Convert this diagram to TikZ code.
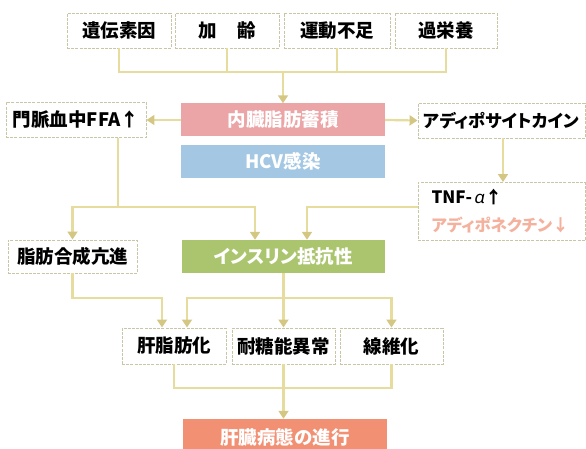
\documentclass[tikz,border=0pt]{standalone}
\usepackage{fontspec}
\usetikzlibrary{arrows.meta}
\setmainfont{Noto Sans CJK JP}
\newfontfamily\kana{Noto Sans CJK JP}[RawFeature=+palt]
\newfontfamily\grk{Noto Sans}[FakeSlant=0.2]
\definecolor{linec}{HTML}{E6DC9E}
\definecolor{tipc}{HTML}{D4C783}
\definecolor{bordc}{HTML}{C9C6A6}
\definecolor{redf}{HTML}{EBA5A7}
\definecolor{bluef}{HTML}{A4C7E3}
\definecolor{greenf}{HTML}{ABC56F}
\definecolor{orangef}{HTML}{F29074}
\definecolor{pinkt}{HTML}{F4B29E}
\newcommand\fsA{\fontsize{18.5}{22}\selectfont\bfseries}
\newcommand\fsB{\fontsize{17}{21}\selectfont\bfseries}
\begin{document}
\begin{tikzpicture}[x=1pt,y=-1pt,
  wbox/.style={draw=bordc, dash pattern=on 3pt off 1.2pt, line width=0.9pt, fill=white,
    inner sep=0pt, text=black, font=\fsA},
  cbox/.style={inner sep=0pt, text=white, font=\fsA},
  conn/.style={draw=linec, line width=2.2pt},
  arr/.style={conn, -{Triangle[width=10pt,length=8pt,color=tipc]}}]
\useasboundingbox (0,0) rectangle (586,449);
\clip (0,0) rectangle (586,449);
% top row
\node[wbox, minimum width=104, minimum height=35] (a1) at (119,30.5) {遺伝素因};
\node[wbox, minimum width=104, minimum height=35] (a2) at (227,30.5) {加\hspace{1.1em}齢};
\node[wbox, minimum width=106, minimum height=35] (a3) at (337,30.5) {運動不足};
\node[wbox, minimum width=102, minimum height=35] (a4) at (446,30.5) {過栄養};
% middle
\node[cbox, fill=redf, minimum width=204, minimum height=33] (fat) at (283,120) {内臓脂肪蓄積};
\node[cbox, fill=bluef, minimum width=204, minimum height=33] (hcv) at (283,161.5) {HCV感染};
\node[wbox, minimum width=140, minimum height=35] (ffa) at (76,120) {門脈血中FFA↑};
\node[wbox, minimum width=167, minimum height=35, font=\kana\bfseries\fontsize{17.3}{20}\selectfont] (adi) at (501.5,120.5) {アディポサイトカイン};
\node[wbox, minimum width=167, minimum height=58, text width=140, align=left] (tnf) at (501.5,211.5)
  {{\fsB TNF-\hspace{1.5pt}{\grk\bfseries α}\hspace{1pt}↑}\\[6pt]{\kana\fontsize{16.5}{19}\selectfont\color{pinkt}アディポネクチン↓}};
\node[wbox, minimum width=129, minimum height=33] (syn) at (72.5,256.5) {脂肪合成亢進};
\node[cbox, fill=greenf, minimum width=203, minimum height=33, font=\kana\fsA] (ins) at (283.5,256.5) {インスリン抵抗性};
% bottom row
\node[wbox, minimum width=104, minimum height=36] (b1) at (174,346) {肝脂肪化};
\node[wbox, minimum width=103, minimum height=36] (b2) at (283.5,346) {耐糖能異常};
\node[wbox, minimum width=103, minimum height=36] (b3) at (391.5,346) {線維化};
\node[cbox, fill=orangef, minimum width=204, minimum height=36] (prog) at (285,437) {肝臓病態の進行};
% connectors: top
\coordinate (j1) at (283,72);
\draw[conn] (a1.south) |- (a4.south|-j1) -- (a4.south);
\draw[conn] (a2.south) -- (a2.south|-j1);
\draw[conn] (a3.south) -- (a3.south|-j1);
\draw[arr] (j1) -- (fat.north);
\draw[arr] (fat.west) -- (ffa.east);
\draw[arr] (fat.east) -- (adi.west);
\draw[arr] ([xshift=1.5]adi.south) -- ([xshift=1.5]tnf.north);
% FFA branch
\coordinate (j2) at (118,207);
\draw[conn] (ffa.south-|j2) -- (j2);
\draw[arr] (j2) -| (syn.north);
\draw[arr] (j2) -| ([xshift=-28.5]ins.north);
\draw[arr] (tnf.west|-j2) -| ([xshift=23.5]ins.north);
% to bottom row
\coordinate (j3) at (283.5,298);
\draw[arr] (syn.south) |- ([xshift=-12]b1.north|-j3) -- ([xshift=-12]b1.north);
\draw[conn] (ins.south) -- (j3);
\draw[arr] (j3) -| ([xshift=13]b1.north);
\draw[arr] (j3) -- (b2.north);
\draw[arr] (j3) -| (b3.north);
% to final
\coordinate (j4) at (283.5,388);
\draw[conn] (b1.south) |- (j4);
\draw[conn] (b3.south) |- (j4);
\draw[arr] (b2.south) -- (b2.south|-prog.north);
\end{tikzpicture}
\end{document}
